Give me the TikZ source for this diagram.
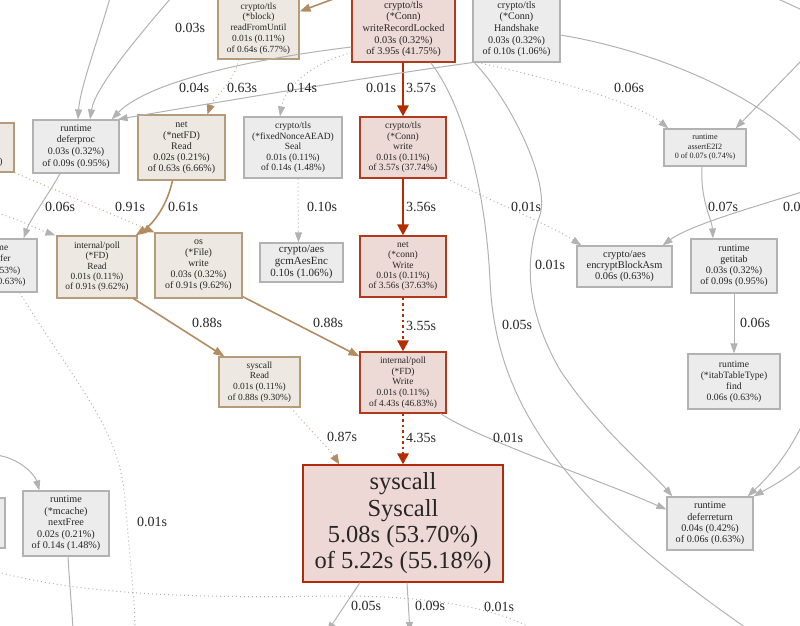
\documentclass[tikz,border=0pt]{standalone}
\usepackage{fontspec}
\setmainfont{Liberation Serif}
\usetikzlibrary{arrows.meta,calc}
\definecolor{gfill}{RGB}{236,236,236}
\definecolor{gline}{RGB}{178,178,178}
\definecolor{tfill}{RGB}{237,232,226}
\definecolor{tline}{RGB}{180,155,122}
\definecolor{tedgec}{RGB}{178,140,98}
\definecolor{tdotc}{RGB}{200,175,145}
\definecolor{rfill}{RGB}{237,218,214}
\definecolor{rline}{RGB}{178,58,28}
\definecolor{redgec}{RGB}{178,46,0}
\definecolor{sfill}{RGB}{237,216,213}
\definecolor{sline}{RGB}{178,42,12}
\tikzset{
  box/.style={rectangle, inner sep=0pt, align=center, line width=1.2pt, text=black!85},
  gbox/.style={box, draw=gline, fill=gfill},
  tbox/.style={box, draw=tline, fill=tfill},
  rbox/.style={box, draw=rline, fill=rfill},
  sbox/.style={box, draw=sline, fill=sfill},
  gedge/.style={draw=gline, line width=1pt, -{Triangle[length=10pt,width=7pt]}},
  gplain/.style={draw=gline, line width=1pt},
  gdot/.style={gedge, dash pattern=on 1pt off 3pt},
  gdotplain/.style={gplain, dash pattern=on 1pt off 3pt},
  tanedge/.style={draw=tedgec, line width=1.6pt, -{Triangle[length=11pt,width=8pt]}},
  tandot/.style={draw=tdotc, line width=1pt, dash pattern=on 1pt off 3pt, -{Triangle[length=10pt,width=8pt,color=tedgec,fill=tedgec]}},
  rededge/.style={draw=redgec, line width=2.8pt, -{Triangle[length=11pt,width=11pt]}},
  reddot/.style={rededge, dash pattern=on 2.5pt off 3pt},
  lbl/.style={font=\fontsize{14}{16}\selectfont, inner sep=0pt, text=black!85},
}
\begin{document}
\begin{tikzpicture}[x=1pt,y=-1pt]
\useasboundingbox (0,0) rectangle (800,626);
\clip (0,0) rectangle (800,626);
% ---------- nodes ----------
\node[tbox, font=\fontsize{9.4}{10.8}\selectfont, minimum width=81pt, minimum height=61pt] (rfu) at (258.5,28.5) {crypto/tls\\(*block)\\readFromUntil\\0.01s (0.11\%)\\of 0.64s (6.77\%)};
\node[rbox, font=\fontsize{10.3}{11.6}\selectfont, minimum width=103pt, minimum height=66pt] (wrl) at (403.5,29) {crypto/tls\\(*Conn)\\writeRecordLocked\\0.03s (0.32\%)\\of 3.95s (41.75\%)};
\node[gbox, font=\fontsize{10.1}{11.6}\selectfont, minimum width=87pt, minimum height=66pt] (hs) at (516.5,29) {crypto/tls\\(*Conn)\\Handshake\\0.03s (0.32\%)\\of 0.10s (1.06\%)};
\node[tbox, font=\fontsize{9.5}{10.8}\selectfont, minimum width=94pt, minimum height=49pt] (lb) at (-33,147.5) {os\\(*File)\\Write\\0 of 0.91s (9.62\%)};
\node[gbox, font=\fontsize{10}{11.6}\selectfont, minimum width=86pt, minimum height=53pt] (dp) at (76,146.5) {runtime\\deferproc\\0.03s (0.32\%)\\of 0.09s (0.95\%)};
\node[tbox, font=\fontsize{10}{11}\selectfont, minimum width=87pt, minimum height=65pt] (nfd) at (181.5,147.5) {net\\(*netFD)\\Read\\0.02s (0.21\%)\\of 0.63s (6.66\%)};
\node[gbox, font=\fontsize{9.5}{10.5}\selectfont, minimum width=98pt, minimum height=61pt] (seal) at (293,147.5) {crypto/tls\\(*fixedNonceAEAD)\\Seal\\0.01s (0.11\%)\\of 0.14s (1.48\%)};
\node[rbox, font=\fontsize{9.5}{10.5}\selectfont, minimum width=86pt, minimum height=61pt] (cw) at (403,147.5) {crypto/tls\\(*Conn)\\write\\0.01s (0.11\%)\\of 3.57s (37.74\%)};
\node[gbox, font=\fontsize{8.1}{9.5}\selectfont, minimum width=82pt, minimum height=37pt] (ae) at (705,147.5) {runtime\\assertE2I2\\0 of 0.07s (0.74\%)};
\node[gbox, font=\fontsize{9.5}{11.3}\selectfont, minimum width=87pt, minimum height=53pt] (fd) at (-6.5,265.5) {runtime\\freedefer\\0.05s (0.53\%)\\of 0.06s (0.63\%)};
\node[tbox, font=\fontsize{9.4}{10.3}\selectfont, minimum width=80pt, minimum height=62pt] (pr) at (97,267) {internal/poll\\(*FD)\\Read\\0.01s (0.11\%)\\of 0.91s (9.62\%)};
\node[tbox, font=\fontsize{9.9}{11}\selectfont, minimum width=87pt, minimum height=65pt] (fw) at (198.5,265.5) {os\\(*File)\\write\\0.03s (0.32\%)\\of 0.91s (9.62\%)};
\node[gbox, font=\fontsize{11}{12}\selectfont, minimum width=83pt, minimum height=39pt] (gcm) at (301.5,262.5) {crypto/aes\\gcmAesEnc\\0.10s (1.06\%)};
\node[rbox, font=\fontsize{9.5}{10.4}\selectfont, minimum width=86pt, minimum height=61pt] (nw) at (403,266.5) {net\\(*conn)\\Write\\0.01s (0.11\%)\\of 3.56s (37.63\%)};
\node[gbox, font=\fontsize{10.4}{11}\selectfont, minimum width=95pt, minimum height=41pt] (enc) at (624.5,266.5) {crypto/aes\\encryptBlockAsm\\0.06s (0.63\%)};
\node[gbox, font=\fontsize{10}{11}\selectfont, minimum width=86pt, minimum height=54pt] (gi) at (734,266) {runtime\\getitab\\0.03s (0.32\%)\\of 0.09s (0.95\%)};
\node[tbox, font=\fontsize{9.4}{10.7}\selectfont, minimum width=81pt, minimum height=50pt] (sr) at (259.5,382) {syscall\\Read\\0.01s (0.11\%)\\of 0.88s (9.30\%)};
\node[rbox, font=\fontsize{9.4}{10.7}\selectfont, minimum width=86pt, minimum height=61pt] (pw) at (403,382.5) {internal/poll\\(*FD)\\Write\\0.01s (0.11\%)\\of 4.43s (46.83\%)};
\node[gbox, font=\fontsize{9.7}{11}\selectfont, minimum width=92pt, minimum height=55pt] (it) at (734,381.5) {runtime\\(*itabTableType)\\find\\0.06s (0.63\%)};
\node[gbox, minimum width=85pt, minimum height=50pt] (bl) at (-37.5,523) {};
\node[gbox, font=\fontsize{10.2}{11.5}\selectfont, minimum width=86pt, minimum height=65pt] (mc) at (66,523.5) {runtime\\(*mcache)\\nextFree\\0.02s (0.21\%)\\of 0.14s (1.48\%)};
\node[sbox, font=\fontsize{24.5}{26.3}\selectfont, minimum width=200pt, minimum height=117pt] (sc) at (403,523.5) {syscall\\Syscall\\5.08s (53.70\%)\\of 5.22s (55.18\%)};
\node[gbox, font=\fontsize{10.2}{11.3}\selectfont, minimum width=86pt, minimum height=53pt] (dr) at (710,523.5) {runtime\\deferreturn\\0.04s (0.42\%)\\of 0.06s (0.63\%)};
% ---------- free ends ----------
\coordinate (tl1) at (110,-2);
\coordinate (tl2) at (171,-2);
\coordinate (tin) at (336,-2);
\coordinate (trr) at (776,-2);
\coordinate (trr2) at (802,10);
\coordinate (rin1) at (802,60);
\coordinate (rout1) at (805,145);
\coordinate (rin2) at (802,192);
\coordinate (rin3) at (802,425);
\coordinate (rin4) at (802,465);
\coordinate (lin1) at (-2,213);
\coordinate (lin2) at (-4,455);
\coordinate (lin3) at (-2,572);
\coordinate (bo1) at (327,632);
\coordinate (bo2) at (410,632);
\coordinate (bo3) at (73,630);
\coordinate (bo4) at (135,630);
\coordinate (bo5) at (535,630);
\coordinate (bo6) at (752,632);
% ---------- red edges ----------
\draw[rededge] (wrl.south -| cw.north) -- (cw.north);
\draw[rededge] (cw.south) -- (nw.north);
\draw[reddot] (nw.south) -- (pw.north);
\draw[reddot] (pw.south) -- (sc.north);
% ---------- tan edges ----------
\draw[tanedge] (tin) -- ($(rfu.east)+(0,-17)$);
\draw[tandot] ($(rfu.south)+(-20,0)$) .. controls (236,80) and (213,98) .. ($(nfd.north)+(26,0)$);
\draw[tanedge] ($(nfd.south)+(-9,0)$) .. controls (166,210) and (150,226) .. ($(pr.north east)+(-2,0)$);
\draw[tandot] (lb.south east) -- (fw.north west);
\draw[tanedge] ($(pr.south east)+(-4,0)$) -- ($(sr.north west)+(6,0)$);
\draw[tanedge] ($(fw.south east)+(0,-2)$) -- ($(pw.north west)+(0,5)$);
\draw[tandot] ($(sr.south east)+(-10,0)$) .. controls (310,430) and (330,450) .. ($(sc.north west)+(37,0)$);
% ---------- gray edges ----------
\draw[gedge] (tl1) .. controls (98,40) and (80,88) .. ($(dp.north)+(2,0)$);
\draw[gedge] (tl2) .. controls (135,40) and (95,88) .. ($(dp.north)+(14,0)$);
\draw[gedge] ($(wrl.west)+(0,18)$) .. controls (260,58) and (150,80) .. ($(dp.north east)+(-8,0)$);
\draw[gedge] (hs.south west) .. controls (380,75) and (200,105) .. ($(dp.north east)+(-2,0)$);
\draw[gdot] ($(wrl.west)+(0,24)$) .. controls (318,60) and (285,85) .. ($(seal.north)+(-13,0)$);
\draw[gedge] ($(dp.south)+(-16,0)$) .. controls (48,195) and (30,220) .. ($(fd.north east)+(-14,0)$);
\draw[gdot] (lin1) .. controls (20,220) and (40,230) .. ($(pr.north west)+(-1,0)$);
\draw[gdot] ($(seal.south)+(5,0)$) -- ($(gcm.north)+(-3,0)$);
\draw[gdot] ($(hs.south west)+(5,0)$) .. controls (560,80) and (640,105) .. ($(ae.north west)+(5,0)$);
\draw[gdot] (cw.south east) .. controls (500,205) and (550,225) .. ($(enc.north west)+(5,0)$);
\draw[gedge] ($(ae.south)+(-3,0)$) .. controls (700,200) and (712,220) .. ($(gi.north)+(-21,0)$);
\draw[gedge] (gi.south) -- (it.north);
\draw[gedge] ($(pw.south east)+(-6,0)$) .. controls (480,440) and (600,480) .. ($(dr.west)+(0,-14)$);
\draw[gedge] ($(sc.south)+(-43,0)$) -- (bo1);
\draw[gedge] ($(sc.south)+(4,0)$) -- (bo2);
\draw[gplain] ($(wrl.south east)+(-25,0)$) .. controls (460,100) and (485,180) .. (490,280) .. controls (495,400) and (560,500) .. (bo6);
\draw[gedge] ($(hs.south west)+(2,0)$) .. controls (510,100) and (550,180) .. (540,215) .. controls (528,250) and (520,300) .. (560,370) .. controls (600,430) and (650,470) .. ($(dr.north west)+(6,0)$);
\draw[gplain] ($(hs.east)+(0,6)$) .. controls (650,50) and (750,90) .. (rout1);
\draw[gedge] (rin1) -- ($(ae.north east)+(-11,0)$);
\draw[gedge] (rin2) .. controls (760,205) and (690,225) .. ($(enc.north east)+(-10,0)$);
\draw[gplain] (trr) -- (trr2);
\draw[gedge] (rin3) .. controls (785,460) and (765,480) .. ($(dr.north east)+(-6,0)$);
\draw[gedge] (rin4) .. controls (785,480) and (765,490) .. (dr.north east);
\draw[gedge] (lin2) .. controls (20,458) and (35,475) .. ($(mc.north west)+(17,0)$);
\draw[gplain] ($(mc.south)+(2,0)$) .. controls (70,590) and (72,610) .. (bo3);
\draw[gdotplain] ($(fd.south)+(26,0)$) .. controls (80,390) and (120,430) .. (125,500) .. controls (130,560) and (135,600) .. (bo4);
\draw[gdotplain] (lin3) .. controls (100,600) and (250,597) .. (340,596) .. controls (420,596) and (490,605) .. (bo5);
% ---------- labels ----------
\node[lbl] (l1) at (190,28) {0.03s};
\node[lbl] (l2) at (194,88) {0.04s};
\node[lbl] (l3) at (242,88) {0.63s};
\node[lbl] (l4) at (302,88) {0.14s};
\node[lbl] (l5) at (381,88) {0.01s};
\node[lbl] (l6) at (421,88) {3.57s};
\node[lbl] (l7) at (629,88) {0.06s};
\node[lbl] (l8) at (60,207) {0.06s};
\node[lbl] (l9) at (130,207) {0.91s};
\node[lbl] (l10) at (183,207) {0.61s};
\node[lbl] (l11) at (322,207) {0.10s};
\node[lbl] (l12) at (421,207) {3.56s};
\node[lbl] (l13) at (526,207) {0.01s};
\node[lbl] (l14) at (723,207) {0.07s};
\node[lbl, anchor=west] (l15) at (783,207) {0.06s};
\node[lbl] (l16) at (550,265) {0.01s};
\node[lbl] (l17) at (207,323) {0.88s};
\node[lbl] (l18) at (328,323) {0.88s};
\node[lbl] (l19) at (421,326) {3.55s};
\node[lbl] (l20) at (517,325) {0.05s};
\node[lbl] (l21) at (755,323) {0.06s};
\node[lbl] (l22) at (342,437) {0.87s};
\node[lbl] (l23) at (421,438) {4.35s};
\node[lbl] (l24) at (508,438) {0.01s};
\node[lbl] (l25) at (152,522) {0.01s};
\node[lbl] (l26) at (366,606) {0.05s};
\node[lbl] (l27) at (430,606) {0.09s};
\node[lbl] (l28) at (499,607) {0.01s};
\end{tikzpicture}
\end{document}
